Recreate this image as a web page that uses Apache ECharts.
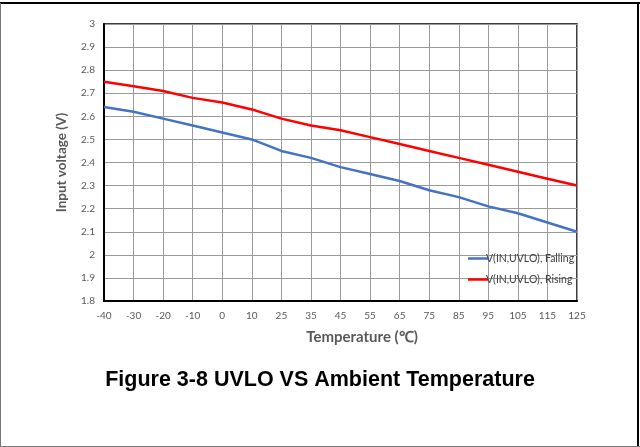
<!DOCTYPE html>
<html><head><meta charset="utf-8">
<script src="https://cdn.jsdelivr.net/npm/echarts@6/dist/echarts.min.js"></script>
<style>html,body{margin:0;padding:0;background:#fff}#c{width:640px;height:447px}</style>
</head><body><div id="c"></div>
<script>
const categories = ['-40','-30','-20','-10','0','10','25','35','45','55','65','75','85','95','105','115','125'];
const falling = [2.64,2.62,2.59,2.56,2.53,2.50,2.45,2.42,2.38,2.35,2.32,2.28,2.25,2.21,2.18,2.14,2.10];
const rising  = [2.75,2.73,2.71,2.68,2.66,2.63,2.59,2.56,2.54,2.51,2.48,2.45,2.42,2.39,2.36,2.33,2.30];
const seriesNames = ['V(IN,UVLO), Falling','V(IN,UVLO), Rising'];
const yAxisName = 'Input voltage (V)';
const xAxisName = 'Temperature (℃)';
const caption = 'Figure 3-8 UVLO VS Ambient Temperature';

const chart = echarts.init(document.getElementById('c'), null, {renderer:'canvas'});
const font = 'Lato, "Open Sans", sans-serif';
chart.setOption({
  animation:false,
  backgroundColor:'#fff',
  grid:{left:104, top:24, right:63, bottom:146, show:true, borderColor:'#000', borderWidth:1.5, backgroundColor:'transparent'},
  legend:{
    orient:'vertical', left:463, top:248, itemWidth:20, itemHeight:14, itemGap:10,
    icon:'path://M0,6 L20,6 L20,8.5 L0,8.5 Z',
    textStyle:{fontFamily:font, fontSize:10.5, color:'#404040', padding:[0,0,0,-7]},
    data:seriesNames
  },
  xAxis:{
    type:'category', data:categories, boundaryGap:false,
    axisLine:{lineStyle:{color:'#000', width:2}},
    axisTick:{show:false},
    axisLabel:{fontFamily:font, fontSize:10, color:'#595959', margin:10},
    splitLine:{show:true, lineStyle:{color:'#9a9a9a', width:1}},
    name:xAxisName, nameLocation:'middle', nameGap:29,
    nameTextStyle:{fontFamily:font, fontSize:15, fontWeight:'bold', color:'#595959', padding:[0,0,0,43]}
  },
  yAxis:{
    type:'value', min:1.8, max:3, interval:0.1,
    axisLine:{show:true, lineStyle:{color:'#000', width:2}},
    axisTick:{show:false},
    axisLabel:{fontFamily:font, fontSize:10, color:'#595959', margin:9,
      formatter:v=>String(parseFloat(v.toFixed(1)))},
    splitLine:{show:true, lineStyle:{color:'#9a9a9a', width:1}},
    name:yAxisName, nameLocation:'middle', nameGap:35, nameRotate:90,
    nameTextStyle:{fontFamily:font, fontSize:13.5, fontWeight:'bold', color:'#595959'}
  },
  series:[
    {name:seriesNames[0], type:'line', data:falling, symbol:'none', smooth:false,
     lineStyle:{color:'#4472C4', width:2.5}, itemStyle:{color:'#4472C4'}},
    {name:seriesNames[1], type:'line', data:rising, symbol:'none', smooth:false,
     lineStyle:{color:'#FF0000', width:2.5}, itemStyle:{color:'#FF0000'}}
  ],
  graphic:[
    {type:'line', shape:{x1:0,y1:3,x2:640,y2:3}, style:{stroke:'#000', lineWidth:2}},
    {type:'line', shape:{x1:0.5,y1:3,x2:0.5,y2:447}, style:{stroke:'#777', lineWidth:1}},
    {type:'line', shape:{x1:638,y1:3,x2:638,y2:447}, style:{stroke:'#000', lineWidth:2}},
    {type:'line', shape:{x1:0,y1:446.5,x2:640,y2:446.5}, style:{stroke:'#777', lineWidth:1}},
    {type:'text', left:'center', top:369, style:{text:caption, font:'bold 21.5px "Liberation Sans", Arial, sans-serif', fill:'#000'}}
  ]
});
</script></body></html>
